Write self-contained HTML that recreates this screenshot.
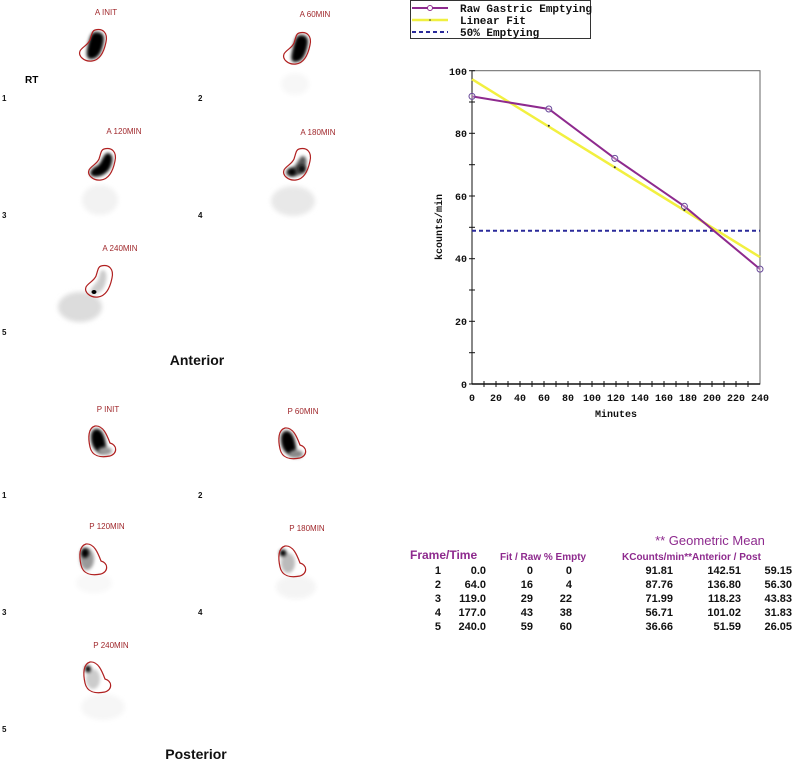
<!DOCTYPE html>
<html><head><meta charset="utf-8"><style>
html,body{margin:0;padding:0;background:#fff;}
svg{display:block;}
.ttl{font-family:"Liberation Sans",sans-serif;font-size:8px;fill:#a0282c;text-anchor:middle;}
.num{font-family:"Liberation Sans",sans-serif;font-size:8px;font-weight:bold;fill:#111;}
.big{font-family:"Liberation Sans",sans-serif;font-size:14px;font-weight:bold;fill:#111;text-anchor:middle;}
.mono{font-family:"Liberation Mono",monospace;font-weight:bold;font-size:11px;fill:#111;}
.tk{font-family:"Liberation Mono",monospace;font-weight:bold;font-size:10px;fill:#111;}
.th{font-family:"Liberation Sans",sans-serif;font-weight:bold;font-size:11px;fill:#8e2a8e;}
.td{font-family:"Liberation Sans",sans-serif;font-weight:bold;font-size:11px;fill:#111;text-anchor:end;}
</style></head><body>
<svg width="795" height="762" viewBox="0 0 795 762" xmlns="http://www.w3.org/2000/svg">
<defs>
<filter id="bl" x="-50%" y="-50%" width="200%" height="200%"><feGaussianBlur stdDeviation="2.5"/></filter>
<filter id="bl2" x="-50%" y="-50%" width="200%" height="200%"><feGaussianBlur stdDeviation="1.5"/></filter>
<path id="ao" d="M16 1 C24 -1 29 4 27 13 C25 23 21 31 13 32 C5 33 -1 27 1 22 C3 18 9 16 11 11 C13 5 13 2 16 1Z" fill="none" stroke="#b02020" stroke-width="1.2"/>
<path id="po" d="M7 1 C15 0 19 10 22 18 C29 20 30 28 22 31 C12 33 4 31 2 22 C0 13 0 3 7 1Z" fill="none" stroke="#b02020" stroke-width="1.2"/>
</defs>
<!-- Anterior images -->
<g transform="translate(79,29)"><path d="M17 3 C25 3 26 8 24 16 C22 24 19 30 12 30 C7 30 7 24 9 16 C11 8 12 3 17 3Z" fill="#000" filter="url(#bl2)"/><use href="#ao"/></g>
<g transform="translate(283,32)"><path d="M18 3 C25 3 26 8 24 16 C22 24 19 30 12 30 C7 30 8 24 10 16 C12 8 13 3 18 3Z" fill="#000" filter="url(#bl2)"/><ellipse cx="12" cy="52" rx="14" ry="11" fill="#f7f7f7" filter="url(#bl)"/><use href="#ao"/></g>
<g transform="translate(88,148)"><ellipse cx="12" cy="52" rx="18" ry="15" fill="#f2f2f2" filter="url(#bl)"/><path d="M20 5 C26 6 25 14 22 20 C18 27 10 30 4 28 C0 25 4 20 9 18 C14 16 15 5 20 5Z" fill="#000" filter="url(#bl2)"/><use href="#ao"/></g>
<g transform="translate(283,148)"><ellipse cx="10" cy="53" rx="22" ry="15" fill="#e8e8e8" filter="url(#bl)"/><path d="M20 8 C25 9 24 18 20 24 C16 29 8 30 4 27 C1 23 6 20 10 19 C14 18 16 8 20 8Z" fill="#555" filter="url(#bl2)"/><ellipse cx="9" cy="24" rx="4" ry="3.5" fill="#000" filter="url(#bl2)"/><ellipse cx="19" cy="21" rx="4" ry="4" fill="#111" filter="url(#bl2)"/><use href="#ao"/></g>
<g transform="translate(85,265)"><ellipse cx="-5" cy="42" rx="22" ry="15" fill="#dcdcdc" filter="url(#bl)"/><path d="M18 5 C23 6 22 16 19 22 C16 28 10 30 6 28 C4 24 10 20 13 15 C15 9 15 5 18 5Z" fill="#ccc" filter="url(#bl2)"/><ellipse cx="9" cy="27" rx="2.5" ry="2" fill="#000"/><use href="#ao"/></g>
<text class="ttl" x="106" y="15">A INIT</text>
<text class="ttl" x="315" y="17">A 60MIN</text>
<text class="ttl" x="124" y="134">A 120MIN</text>
<text class="ttl" x="318" y="135">A 180MIN</text>
<text class="ttl" x="120" y="251">A 240MIN</text>
<text x="25" y="83" style="font-family:'Liberation Sans',sans-serif;font-weight:bold;font-size:10px">RT</text>
<text class="num" x="2" y="101">1</text><text class="num" x="198" y="101">2</text>
<text class="num" x="2" y="218">3</text><text class="num" x="198" y="218">4</text>
<text class="num" x="2" y="335">5</text>
<text class="big" x="197" y="365">Anterior</text>
<!-- Posterior images -->
<g transform="translate(88,425)"><path d="M8 4 C14 3 17 12 18 20 C19 27 14 29 10 27 C5 24 3 18 3 12 C3 7 5 4 8 4Z" fill="#000" filter="url(#bl2)"/><ellipse cx="17" cy="26" rx="7" ry="4" fill="#999" filter="url(#bl2)"/><use href="#po"/></g>
<g transform="translate(278,427)"><path d="M8 4 C14 3 17 12 18 20 C19 27 14 29 10 27 C5 24 3 18 3 12 C3 7 5 4 8 4Z" fill="#000" filter="url(#bl2)"/><ellipse cx="18" cy="27" rx="7" ry="4" fill="#888" filter="url(#bl2)"/><use href="#po"/></g>
<g transform="translate(79,543)"><ellipse cx="15" cy="40" rx="18" ry="10" fill="#f8f8f8" filter="url(#bl)"/><ellipse cx="8" cy="16" rx="7" ry="11" fill="#999" filter="url(#bl2)"/><ellipse cx="6" cy="10" rx="4" ry="5" fill="#000" filter="url(#bl2)"/><use href="#po"/></g>
<g transform="translate(278,545)"><ellipse cx="18" cy="42" rx="20" ry="12" fill="#f4f4f4" filter="url(#bl)"/><ellipse cx="10" cy="18" rx="7" ry="10" fill="#bbb" filter="url(#bl2)"/><ellipse cx="5" cy="8" rx="3.5" ry="3.5" fill="#000" filter="url(#bl2)"/><use href="#po"/></g>
<g transform="translate(83,661)"><ellipse cx="20" cy="46" rx="22" ry="13" fill="#f6f6f6" filter="url(#bl)"/><ellipse cx="10" cy="18" rx="7" ry="10" fill="#ccc" filter="url(#bl2)"/><ellipse cx="5" cy="8" rx="3" ry="3.5" fill="#000" filter="url(#bl2)"/><use href="#po"/></g>
<text class="ttl" x="108" y="412">P INIT</text>
<text class="ttl" x="303" y="414">P 60MIN</text>
<text class="ttl" x="107" y="529">P 120MIN</text>
<text class="ttl" x="307" y="531">P 180MIN</text>
<text class="ttl" x="111" y="648">P 240MIN</text>
<text class="num" x="2" y="498">1</text><text class="num" x="198" y="498">2</text>
<text class="num" x="2" y="615">3</text><text class="num" x="198" y="615">4</text>
<text class="num" x="2" y="732">5</text>
<text class="big" x="196" y="759">Posterior</text>
<!-- Legend -->
<rect x="410.5" y="0.5" width="180" height="38" fill="#fff" stroke="#333" stroke-width="1"/>
<line x1="412" y1="8" x2="448" y2="8" stroke="#8e2a8e" stroke-width="2"/><circle cx="430" cy="8" r="2.5" fill="#fff" stroke="#8e2a8e"/>
<line x1="412" y1="20" x2="448" y2="20" stroke="#f0f040" stroke-width="2.5"/><circle cx="430" cy="20" r="0.8" fill="#333"/>
<line x1="412" y1="32" x2="448" y2="32" stroke="#2a2a9a" stroke-width="2" stroke-dasharray="4,3"/>
<text class="mono" x="460" y="12">Raw Gastric Emptying</text>
<text class="mono" x="460" y="24">Linear Fit</text>
<text class="mono" x="460" y="36">50% Emptying</text>
<!-- Chart -->
<rect x="472" y="70.7" width="288" height="313.3" fill="none" stroke="#666" stroke-width="1"/>
<line x1="472" y1="384" x2="760" y2="384" stroke="#111" stroke-width="1.5"/>
<line x1="472" y1="70.7" x2="472" y2="384" stroke="#111" stroke-width="1"/>
<g stroke="#111" stroke-width="1">
<line x1="469" y1="384" x2="475" y2="384"/><line x1="469" y1="352.7" x2="475" y2="352.7"/><line x1="469" y1="321.3" x2="475" y2="321.3"/><line x1="469" y1="290" x2="475" y2="290"/><line x1="469" y1="258.7" x2="475" y2="258.7"/><line x1="469" y1="227.3" x2="475" y2="227.3"/><line x1="469" y1="196" x2="475" y2="196"/><line x1="469" y1="164.7" x2="475" y2="164.7"/><line x1="469" y1="133.3" x2="475" y2="133.3"/><line x1="469" y1="102" x2="475" y2="102"/><line x1="469" y1="70.7" x2="475" y2="70.7"/>
<line x1="484" y1="381" x2="484" y2="387"/><line x1="496" y1="381" x2="496" y2="387"/><line x1="508" y1="381" x2="508" y2="387"/><line x1="520" y1="381" x2="520" y2="387"/><line x1="532" y1="381" x2="532" y2="387"/><line x1="544" y1="381" x2="544" y2="387"/><line x1="556" y1="381" x2="556" y2="387"/><line x1="568" y1="381" x2="568" y2="387"/><line x1="580" y1="381" x2="580" y2="387"/><line x1="592" y1="381" x2="592" y2="387"/><line x1="604" y1="381" x2="604" y2="387"/><line x1="616" y1="381" x2="616" y2="387"/><line x1="628" y1="381" x2="628" y2="387"/><line x1="640" y1="381" x2="640" y2="387"/><line x1="652" y1="381" x2="652" y2="387"/><line x1="664" y1="381" x2="664" y2="387"/><line x1="676" y1="381" x2="676" y2="387"/><line x1="688" y1="381" x2="688" y2="387"/><line x1="700" y1="381" x2="700" y2="387"/><line x1="712" y1="381" x2="712" y2="387"/><line x1="724" y1="381" x2="724" y2="387"/><line x1="736" y1="381" x2="736" y2="387"/><line x1="748" y1="381" x2="748" y2="387"/>
</g>
<g class="tk" text-anchor="end">
<text x="467" y="388">0</text><text x="467" y="325">20</text><text x="467" y="262">40</text><text x="467" y="200">60</text><text x="467" y="137">80</text><text x="467" y="75">100</text>
</g>
<g class="tk" text-anchor="middle">
<text x="472" y="401">0</text><text x="496" y="401">20</text><text x="520" y="401">40</text><text x="544" y="401">60</text><text x="568" y="401">80</text><text x="592" y="401">100</text><text x="616" y="401">120</text><text x="640" y="401">140</text><text x="664" y="401">160</text><text x="688" y="401">180</text><text x="712" y="401">200</text><text x="736" y="401">220</text><text x="760" y="401">240</text>
</g>
<text class="tk" x="616" y="417" text-anchor="middle">Minutes</text>
<text class="tk" transform="translate(442,227) rotate(-90)" text-anchor="middle">kcounts/min</text>
<line x1="472" y1="230.8" x2="760" y2="230.8" stroke="#2a2a9a" stroke-width="2" stroke-dasharray="4,3"/>
<polyline points="472,79.2 760,257.1" fill="none" stroke="#f2f040" stroke-width="2.5"/>
<polyline points="472,96.4 548.8,109 614.8,158.4 684.4,206.3 760,269.1" fill="none" stroke="#8e2a8e" stroke-width="2"/>
<g fill="#fff" fill-opacity="0.3" stroke="#6a4a9a" stroke-width="1">
<circle cx="472" cy="96.4" r="3"/><circle cx="548.8" cy="109" r="3"/><circle cx="614.8" cy="158.4" r="3"/><circle cx="684.4" cy="206.3" r="3"/><circle cx="760" cy="269.1" r="3"/>
</g>
<g fill="#223"><circle cx="548.8" cy="125.8" r="1"/><circle cx="614.8" cy="167.2" r="1"/><circle cx="684.4" cy="210.1" r="1"/></g>
<!-- Table -->
<text class="th" x="710" y="545" text-anchor="middle" style="font-size:13px;font-weight:normal">** Geometric Mean</text>
<text class="th" x="410" y="559" style="font-size:12px">Frame/Time</text>
<text class="th" x="500" y="560" style="font-size:10px">Fit / Raw % Empty</text>
<text class="th" x="622" y="560" style="font-size:10px">KCounts/min**Anterior / Post</text>
<g class="td">
<text x="441" y="574">1</text><text x="486" y="574">0.0</text><text x="533" y="574">0</text><text x="572" y="574">0</text><text x="673" y="574">91.81</text><text x="741" y="574">142.51</text><text x="792" y="574">59.15</text>
<text x="441" y="588">2</text><text x="486" y="588">64.0</text><text x="533" y="588">16</text><text x="572" y="588">4</text><text x="673" y="588">87.76</text><text x="741" y="588">136.80</text><text x="792" y="588">56.30</text>
<text x="441" y="602">3</text><text x="486" y="602">119.0</text><text x="533" y="602">29</text><text x="572" y="602">22</text><text x="673" y="602">71.99</text><text x="741" y="602">118.23</text><text x="792" y="602">43.83</text>
<text x="441" y="616">4</text><text x="486" y="616">177.0</text><text x="533" y="616">43</text><text x="572" y="616">38</text><text x="673" y="616">56.71</text><text x="741" y="616">101.02</text><text x="792" y="616">31.83</text>
<text x="441" y="630">5</text><text x="486" y="630">240.0</text><text x="533" y="630">59</text><text x="572" y="630">60</text><text x="673" y="630">36.66</text><text x="741" y="630">51.59</text><text x="792" y="630">26.05</text>
</g>
</svg>
</body></html>
